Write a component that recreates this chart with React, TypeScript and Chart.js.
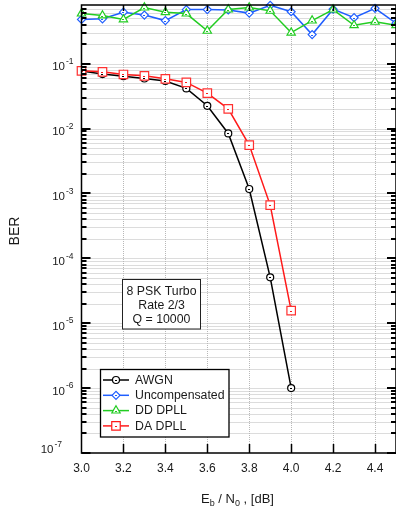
import { useEffect, useRef } from 'react';
import { Chart, registerables } from 'chart.js';

Chart.register(...registerables);

// ---- data ----
const ebn0All = [3.0, 3.1, 3.2, 3.3, 3.4, 3.5, 3.6, 3.7, 3.8, 3.9, 4.0, 4.1, 4.2, 4.3, 4.4, 4.5];
const ebn0Short = [3.0, 3.1, 3.2, 3.3, 3.4, 3.5, 3.6, 3.7, 3.8, 3.9, 4.0];
const berAwgn = [0.0767, 0.069, 0.064, 0.059, 0.054, 0.0415, 0.0224, 0.0084, 0.00117, 5.1e-5, 1.0e-6];
const berUncomp = [0.48, 0.49, 0.62, 0.56, 0.46, 0.68, 0.68, 0.67, 0.6, 0.79, 0.63, 0.28, 0.69, 0.51, 0.71, 0.42];
const berDd = [0.59, 0.55, 0.48, 0.73, 0.62, 0.59, 0.32, 0.68, 0.73, 0.65, 0.3, 0.46, 0.68, 0.39, 0.44, 0.39];
const berDa = [0.0775, 0.0748, 0.068, 0.0649, 0.0583, 0.0513, 0.0351, 0.0201, 0.00556, 6.6e-4, 1.56e-5];
const seriesNames = ['AWGN', 'Uncompensated', 'DD DPLL', 'DA DPLL'];
const xTickValues = [3.0, 3.2, 3.4, 3.6, 3.8, 4.0, 4.2, 4.4];
const decadeExponents = [-1, -2, -3, -4, -5, -6, -7];
const noteLines = ['8 PSK Turbo', 'Rate 2/3', 'Q = 10000'];
const yTitle = 'BER';
const xTitleParts = [
  { t: 'E', sub: false },
  { t: 'b', sub: true },
  { t: ' / N', sub: false },
  { t: '0', sub: true },
  { t: ' , [dB]', sub: false },
];

const FONT = '"Liberation Sans", Arial, sans-serif';
const TEXT = '#1a1a1a';

function drawMarker(ctx: CanvasRenderingContext2D, style: string, x: number, y: number, r: number) {
  ctx.beginPath();
  if (style === 'circle') {
    ctx.arc(x, y, r, 0, Math.PI * 2);
  } else if (style === 'rect') {
    const s = Math.SQRT1_2 * r;
    ctx.rect(x - s, y - s, 2 * s, 2 * s);
  } else if (style === 'rectRot') {
    ctx.moveTo(x - r, y);
    ctx.lineTo(x, y - r);
    ctx.lineTo(x + r, y);
    ctx.lineTo(x, y + r);
    ctx.closePath();
  } else if (style === 'triangle') {
    let rad = 0;
    ctx.moveTo(x + Math.sin(rad) * r, y - Math.cos(rad) * r);
    rad += (2 * Math.PI) / 3;
    ctx.lineTo(x + Math.sin(rad) * r, y - Math.cos(rad) * r);
    rad += (2 * Math.PI) / 3;
    ctx.lineTo(x + Math.sin(rad) * r, y - Math.cos(rad) * r);
    ctx.closePath();
  }
  ctx.fill();
  ctx.stroke();
}

const decor = {
  id: 'decor',
  beforeDatasetsDraw(chart: any) {
    const { ctx, chartArea: a, scales } = chart;
    const x = scales.x;
    const y = scales.y;
    ctx.save();
    ctx.strokeStyle = '#b8b8b8';
    ctx.lineWidth = 1;
    ctx.setLineDash([1, 1]);
    x.ticks.forEach((t: any) => {
      const px = Math.round(x.getPixelForValue(t.value)) + 0.5;
      if (px <= a.left + 2 || px >= a.right - 2) return;
      ctx.beginPath();
      ctx.moveTo(px, a.top);
      ctx.lineTo(px, a.bottom);
      ctx.stroke();
    });
    for (let e = -7; e <= 0; e++) {
      for (let m = 1; m <= 9; m++) {
        const v = m * Math.pow(10, e);
        if (v <= y.min * 1.0001 || v >= y.max) continue;
        const py = Math.round(y.getPixelForValue(v)) + 0.5;
        ctx.beginPath();
        ctx.moveTo(a.left, py);
        ctx.lineTo(a.right, py);
        ctx.stroke();
      }
    }
    ctx.restore();
  },
  afterDatasetsDraw(chart: any) {
    const { ctx, chartArea: a, scales } = chart;
    const x = scales.x;
    const y = scales.y;
    ctx.save();

    // centre marks of the markers
    chart.data.datasets.forEach((ds: any, i: number) => {
      const meta = chart.getDatasetMeta(i);
      ctx.fillStyle = ds.borderColor;
      meta.data.forEach((p: any) => {
        ctx.fillRect(Math.round(p.x) - 1, Math.round(p.y), 2, 1);
      });
    });

    // frame
    ctx.strokeStyle = '#000';
    ctx.lineWidth = 1.5;
    ctx.strokeRect(a.left, a.top, a.right - a.left, a.bottom - a.top);

    // y ticks (inward, left & right)
    ctx.fillStyle = '#000';
    for (let e = -7; e <= 0; e++) {
      for (let m = 1; m <= 9; m++) {
        const v = m * Math.pow(10, e);
        if (v < y.min * 0.9999 || v >= y.max) continue;
        const py = Math.round(y.getPixelForValue(v));
        const len = m === 1 ? 9 : 5;
        ctx.fillRect(a.left, py - 1, len, 2);
        ctx.fillRect(a.right - len, py - 1, len, 2);
      }
    }
    // x ticks (inward, bottom & top)
    ctx.lineWidth = 1.5;
    x.ticks.forEach((t: any) => {
      const px = Math.round(x.getPixelForValue(t.value)) + 0.5;
      if (px <= a.left + 2) return;
      ctx.beginPath();
      ctx.moveTo(px, a.bottom);
      ctx.lineTo(px, a.bottom - 9);
      ctx.moveTo(px, a.top);
      ctx.lineTo(px, a.top + 6);
      ctx.stroke();
    });

    // y tick labels 10^n
    ctx.fillStyle = TEXT;
    ctx.textBaseline = 'alphabetic';
    decadeExponents.forEach((e) => {
      const py = y.getPixelForValue(Math.pow(10, e));
      const isBottom = e === -7;
      const right = isBottom ? 53.5 : 65;
      const base = isBottom ? py : py + 6.7;
      ctx.font = `11.5px ${FONT}`;
      ctx.textAlign = 'right';
      ctx.fillText('10', right, base);
      ctx.font = `8.5px ${FONT}`;
      ctx.textAlign = 'left';
      ctx.fillText(String(e), right + 1, base - 6.5);
    });

    // y title
    ctx.save();
    ctx.translate(15.5, 231);
    ctx.rotate(-Math.PI / 2);
    ctx.font = `14px ${FONT}`;
    ctx.textAlign = 'center';
    ctx.textBaseline = 'middle';
    ctx.fillText(yTitle, 0, 0);
    ctx.restore();

    // x title with subscripts
    const mainFont = `13px ${FONT}`;
    const subFont = `9px ${FONT}`;
    let total = 0;
    xTitleParts.forEach((p) => {
      ctx.font = p.sub ? subFont : mainFont;
      total += ctx.measureText(p.t).width;
    });
    let cx = 237.5 - total / 2;
    ctx.textAlign = 'left';
    ctx.textBaseline = 'alphabetic';
    xTitleParts.forEach((p) => {
      ctx.font = p.sub ? subFont : mainFont;
      ctx.fillText(p.t, cx, p.sub ? 505.5 : 502.5);
      cx += ctx.measureText(p.t).width;
    });

    // note box
    ctx.fillStyle = '#fff';
    ctx.fillRect(122.5, 279.5, 78, 49.5);
    ctx.strokeStyle = '#222';
    ctx.lineWidth = 1;
    ctx.strokeRect(122.5, 279.5, 78, 49.5);
    ctx.fillStyle = TEXT;
    ctx.font = `12.3px ${FONT}`;
    ctx.textAlign = 'center';
    ctx.textBaseline = 'middle';
    noteLines.forEach((l, i) => ctx.fillText(l, 161.5, 291.5 + i * 14.2));

    // legend
    ctx.fillStyle = '#fff';
    ctx.fillRect(100.5, 369.5, 128.5, 67.5);
    ctx.strokeStyle = '#000';
    ctx.lineWidth = 1.3;
    ctx.strokeRect(100.5, 369.5, 128.5, 67.5);
    chart.data.datasets.forEach((ds: any, i: number) => {
      const ly = 380 + i * 15.3;
      ctx.strokeStyle = ds.borderColor;
      ctx.lineWidth = ds.borderWidth;
      ctx.beginPath();
      ctx.moveTo(103, ly);
      ctx.lineTo(129, ly);
      ctx.stroke();
      ctx.fillStyle = '#fff';
      ctx.lineWidth = ds.pointBorderWidth;
      drawMarker(ctx, ds.pointStyle, 116, ly, ds.pointRadius);
      ctx.fillStyle = ds.borderColor;
      ctx.fillRect(115, Math.round(ly), 2, 1);
      ctx.fillStyle = TEXT;
      ctx.font = `12.3px ${FONT}`;
      ctx.textAlign = 'left';
      ctx.textBaseline = 'middle';
      ctx.fillText(ds.label, 135, ly + 0.5);
    });

    ctx.restore();
  },
};

function mk(xs: number[], ys: number[]) {
  return xs.map((v, i) => ({ x: v, y: ys[i] }));
}

export default function App() {
  const ref = useRef<HTMLCanvasElement>(null);
  useEffect(() => {
    document.body.style.margin = '0';
    document.body.style.overflow = 'hidden';
    const common = { tension: 0, clip: false as any, backgroundColor: '#fff', pointBackgroundColor: '#fff' };
    const chart = new Chart(ref.current!, {
      type: 'line',
      data: {
        datasets: [
          { ...common, label: seriesNames[0], data: mk(ebn0Short, berAwgn), borderColor: '#000000', pointBorderColor: '#000000', borderWidth: 1.5, pointBorderWidth: 1.2, pointStyle: 'circle', pointRadius: 3.5, order: 3 },
          { ...common, label: seriesNames[1], data: mk(ebn0All, berUncomp), borderColor: '#1f5eff', pointBorderColor: '#1f5eff', borderWidth: 1.5, pointBorderWidth: 1.2, pointStyle: 'rectRot', pointRadius: 4, order: 2 },
          { ...common, label: seriesNames[2], data: mk(ebn0All, berDd), borderColor: '#22cc22', pointBorderColor: '#22cc22', borderWidth: 1.5, pointBorderWidth: 1.2, pointStyle: 'triangle', pointRadius: 4.8, order: 1 },
          { ...common, label: seriesNames[3], data: mk(ebn0Short, berDa), borderColor: '#ff1a1a', pointBorderColor: '#ff3030', borderWidth: 1.5, pointBorderWidth: 1.2, pointStyle: 'rect', pointRadius: 6, order: 0 },
        ] as any,
      },
      options: {
        responsive: false,
        maintainAspectRatio: false,
        animation: false,
        devicePixelRatio: 1,
        events: [],
        layout: { autoPadding: false, padding: { left: 81.5, top: 5, right: 0, bottom: 0 } },
        plugins: { legend: { display: false }, tooltip: { enabled: false } },
        scales: {
          x: {
            type: 'linear',
            min: 3.0,
            max: 4.5,
            bounds: 'data',
            grid: { display: false, drawTicks: false },
            border: { display: false },
            afterBuildTicks: (s: any) => {
              s.ticks = xTickValues.map((v) => ({ value: v }));
            },
            ticks: {
              padding: 8,
              color: TEXT,
              font: { family: FONT, size: 12 },
              maxRotation: 0,
              autoSkip: false,
              callback: (v: any) => Number(v).toFixed(1),
            },
            afterFit: (s: any) => {
              s.height = 53;
              s.paddingLeft = 0;
              s.paddingRight = 0;
            },
          },
          y: {
            type: 'logarithmic',
            min: 1e-7,
            max: 0.8,
            bounds: 'data',
            display: false,
          },
        },
      } as any,
      plugins: [decor],
    });
    return () => chart.destroy();
  }, []);
  return (
    <div style={{ width: 396, height: 506, position: 'relative' }}>
      <canvas ref={ref} width={396} height={506} style={{ display: 'block' }} />
    </div>
  );
}
